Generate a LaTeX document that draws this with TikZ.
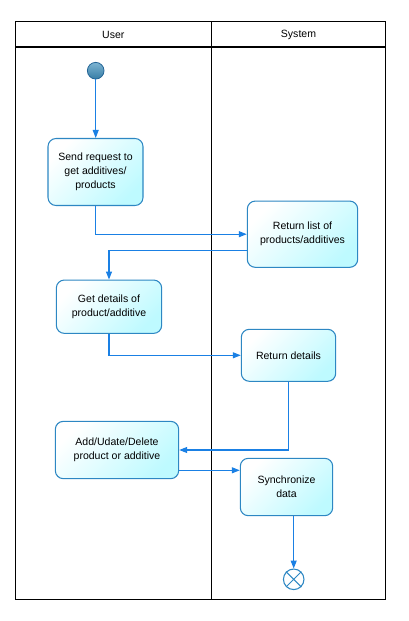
\documentclass[tikz,border=0pt]{standalone}
\usepackage{fontspec}
\setmainfont{Liberation Sans}
\usetikzlibrary{arrows.meta}
\definecolor{flow}{RGB}{26,128,228}
\definecolor{boxline}{RGB}{45,135,195}
\definecolor{boxfill}{RGB}{190,250,255}
\definecolor{startlight}{RGB}{125,180,210}
\definecolor{startdark}{RGB}{55,125,165}
\definecolor{startline}{RGB}{35,100,150}
\begin{document}
\begin{tikzpicture}[x=0.75pt,y=-0.75pt,
  every node/.style={font=\fontsize{7.9}{10.5}\selectfont},
  act/.style={draw=boxline, line width=0.8pt, rounded corners=6pt,
    top color=white, bottom color=boxfill, shading angle=45,
    align=center, inner sep=0pt},
  flowline/.style={draw=flow, line width=0.8pt, -{Triangle[length=6pt,width=4.5pt]}},
  lane/.style={draw=black, line width=0.9pt}]
\useasboundingbox (0,0) rectangle (409,621);
% swimlanes
\draw[lane] (15.3,21.3) rectangle (385.7,599.3);
\draw[lane] (15.3,47) -- (385.7,47);
\draw[lane] (211.3,21.3) -- (211.3,599.3);
\node (huser) at (113.3,34.5) {User};
\node (hsys) at (298.5,34.5) {System};
% start / end
\node[circle, draw=startline, line width=0.6pt, top color=startlight, bottom color=startdark,
  minimum size=12.5pt, inner sep=0pt] (start) at (95.7,70.7) {};
\node[circle, draw=boxline, fill=white, line width=0.8pt, minimum size=15.4pt, inner sep=0pt]
  (end) at (293.7,579.3) {};
\draw[boxline, line width=0.7pt] (end.north west) -- (end.south east)
  (end.north east) -- (end.south west);
% activities
\node[act, minimum width=71.25pt, minimum height=50.25pt] (box1) at (95.5,172)
  {Send request to\\get additives/\\products};
\node[act, minimum width=82.8pt, minimum height=49.7pt] (box2) at (302.5,234.2)
  {Return list of\\products/additives};
\node[act, minimum width=79pt, minimum height=40pt] (box3) at (109,306.7)
  {Get details of\\product/additive};
\node[act, minimum width=70.8pt, minimum height=39pt] (box4) at (288.5,355.3)
  {Return details};
\node[act, minimum width=92.5pt, minimum height=43pt] (box5) at (117,450)
  {Add/Udate/Delete\\product or additive};
\node[act, minimum width=69.3pt, minimum height=43pt] (box6) at (286.5,487)
  {Synchronize\\data};
% flows
\draw[flowline] (start.south) -- (box1.north -| start.south);
\draw[flowline] (box1.south -| start.south) |- (box2.west);
\draw[flowline] (box2.west |- 0,250.7) -| (box3.north);
\draw[flowline] (box3.south) |- (box4.west);
\draw[flowline] (box4.south) |- (box5.east);
\draw[flowline] (box5.east |- 0,470.3) -- (box6.west |- 0,470.3);
\draw[flowline] (box6.south -| end.north) -- (end.north);
\end{tikzpicture}
\end{document}
